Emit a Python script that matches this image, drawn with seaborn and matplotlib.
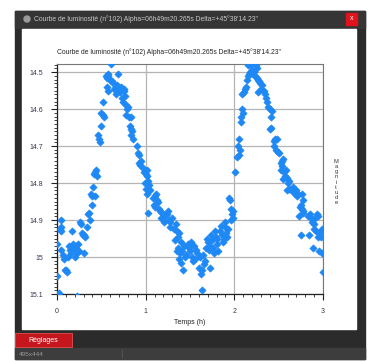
import matplotlib
matplotlib.use('Agg')
import matplotlib.pyplot as plt
from matplotlib.patches import Rectangle
from matplotlib.ticker import MultipleLocator
import seaborn as sns
import pandas as pd

# light curve readings (time in hours, magnitude)
temps_h = [
    0.00, 0.00, 0.02, 0.01, 0.03, 0.05, 0.05, 0.04, 0.05, 0.07, 0.08, 0.09, 0.11, 0.10, 0.12,
    0.15, 0.16, 0.14, 0.17, 0.18, 0.19, 0.20, 0.21, 0.22, 0.24, 0.25, 0.23, 0.22, 0.26, 0.27,
    0.28, 0.29, 0.30, 0.32, 0.31, 0.35, 0.36, 0.37, 0.34, 0.39, 0.40, 0.41, 0.42, 0.43, 0.45,
    0.44, 0.38, 0.43, 0.46, 0.47, 0.48, 0.50, 0.50, 0.52, 0.53, 0.52, 0.55, 0.56, 0.57, 0.58,
    0.56, 0.58, 0.61, 0.60, 0.62,
    0.63, 0.64, 0.66, 0.68, 0.69, 0.67, 0.70, 0.71, 0.72, 0.73, 0.74, 0.75, 0.76, 0.77, 0.78,
    0.79, 0.80, 0.78, 0.81, 0.83, 0.82, 0.84, 0.85, 0.86, 0.84, 0.90, 0.91, 0.93, 0.95, 0.94,
    0.92, 0.97, 0.98, 1.00, 1.02, 1.01, 0.99, 1.03, 1.04, 1.00, 1.02, 1.05, 1.03, 1.08, 1.10,
    1.12, 1.14, 1.13, 1.09, 1.11, 1.15, 1.16, 1.18, 1.20, 1.22, 1.17, 1.24, 1.25, 1.26, 1.21,
    1.28, 1.30, 1.27, 1.32, 1.34, 1.35, 1.33, 1.36, 1.38, 1.40, 1.37, 1.39, 1.41, 1.43, 1.35,
    1.38, 1.40, 1.42, 1.44, 1.46, 1.48, 1.49, 1.50, 1.51, 1.52, 1.53, 1.55, 1.56, 1.57, 1.58,
    1.60, 1.62, 1.63, 1.64, 1.66, 1.61, 1.65, 1.67, 1.68, 1.70, 1.69, 1.71, 1.72, 1.73, 1.75,
    1.76, 1.74, 1.78, 1.79, 1.80, 1.81, 1.82, 1.77, 1.84, 1.85, 1.86, 1.87, 1.88, 1.89, 1.90,
    1.91, 1.92, 1.93, 1.94, 1.95, 1.96, 1.97, 1.98, 1.99, 1.96, 2.01, 2.03, 2.05, 2.06, 2.04,
    2.05, 2.07, 2.08, 2.09, 2.10, 2.09, 2.11, 2.12, 2.13, 2.14, 2.15, 2.16, 2.18, 2.20, 2.21,
    2.22, 2.23, 2.15, 2.17, 2.19, 2.24, 2.25, 2.26, 2.27, 2.28, 2.29, 2.30, 2.31, 2.27, 2.33,
    2.35, 2.36, 2.37, 2.38, 2.40, 2.42, 2.41, 2.40, 2.41, 2.45, 2.46, 2.48, 2.45, 2.47, 2.49,
    2.50, 2.53, 2.54, 2.55, 2.54, 2.53, 2.56, 2.58, 2.57, 2.59, 2.55, 2.60, 2.62, 2.59, 2.62,
    2.64, 2.66, 2.67, 2.68, 2.70, 2.71, 2.72, 2.76, 2.77, 2.75, 2.74, 2.76, 2.78, 2.77, 2.73,
    2.75, 2.84, 2.83, 2.85, 2.86, 2.88, 2.90, 2.91, 2.93, 2.94, 2.90, 2.92, 2.94, 2.96, 2.98,
    2.99, 2.89, 2.96, 2.99, 3.00,
]
magnitude = [
    15.05, 14.965, 15.098, 15.10, 14.925, 14.90, 14.93, 14.92, 14.98, 14.995, 15.005, 15.035, 15.04, 15.035, 15.00,
    14.98, 14.99, 14.97, 14.93, 14.965, 14.975, 15.00, 14.97, 14.98, 14.965, 14.985, 14.99, 15.105, 14.905, 14.91,
    14.935, 14.94, 14.94, 14.945, 14.99, 14.885, 14.88, 14.90, 14.92, 14.86, 14.835, 14.81, 14.775, 14.77, 14.78,
    14.765, 14.83, 14.835, 14.67, 14.68, 14.69, 14.647, 14.61, 14.615, 14.62, 14.58, 14.51, 14.515, 14.505, 14.51,
    14.54, 14.55, 14.478, 14.52, 14.525,
    14.53, 14.545, 14.54, 14.535, 14.505, 14.56, 14.55, 14.555, 14.54, 14.57, 14.58, 14.55, 14.545, 14.565, 14.59,
    14.60, 14.595, 14.615, 14.62, 14.62, 14.645, 14.655, 14.66, 14.68, 14.67, 14.70, 14.72, 14.725, 14.74, 14.75,
    14.745, 14.76, 14.77, 14.775, 14.78, 14.765, 14.80, 14.795, 14.805, 14.815, 14.83, 14.82, 14.88, 14.84, 14.835,
    14.83, 14.85, 14.845, 14.86, 14.865, 14.87, 14.875, 14.88, 14.885, 14.89, 14.895, 14.885, 14.875, 14.90, 14.905,
    14.905, 14.895, 14.92, 14.925, 14.91, 14.93, 14.955, 14.945, 14.935, 14.96, 14.975, 14.99, 14.985, 14.97, 14.985,
    15.005, 15.015, 15.035, 15.00, 14.995, 14.965, 14.975, 14.985, 14.96, 15.00, 15.01, 14.97, 15.005, 14.98, 14.99,
    15.03, 15.045, 15.09, 15.035, 15.02, 15.00, 14.995, 15.01, 14.975, 14.96, 14.95, 14.98, 15.03, 14.97, 14.955,
    14.975, 14.94, 14.93, 14.945, 14.95, 14.965, 14.985, 14.99, 14.93, 14.915, 14.94, 14.96, 14.95, 14.905, 14.92,
    14.935, 14.945, 14.925, 14.84, 14.845, 14.87, 14.885, 14.895, 14.875, 14.90, 14.77, 14.73, 14.725, 14.71, 14.70,
    14.68, 14.635, 14.62, 14.60, 14.61, 14.56, 14.555, 14.545, 14.54, 14.52, 14.51, 14.505, 14.50, 14.495, 14.505,
    14.50, 14.51, 14.48, 14.478, 14.482, 14.48, 14.49, 14.515, 14.52, 14.525, 14.53, 14.545, 14.535, 14.555, 14.55,
    14.56, 14.57, 14.58, 14.595, 14.60, 14.605, 14.62, 14.655, 14.65, 14.685, 14.68, 14.68, 14.70, 14.71, 14.715,
    14.72, 14.745, 14.74, 14.735, 14.755, 14.765, 14.77, 14.765, 14.78, 14.785, 14.79, 14.80, 14.795, 14.82, 14.815,
    14.82, 14.81, 14.825, 14.83, 14.82, 14.835, 14.83, 14.83, 14.845, 14.86, 14.865, 14.87, 14.875, 14.88, 14.89,
    14.94, 14.94, 14.89, 14.885, 14.895, 14.905, 14.91, 14.895, 14.885, 14.89, 14.925, 14.93, 14.945, 14.935, 14.945,
    14.925, 14.975, 14.985, 14.99, 15.04,
]
y_ticks = [14.5, 14.6, 14.7, 14.8, 14.9, 15.0, 15.1]
y_tick_labels = ['14.5', '14.6', '14.7', '14.8', '14.9', '15', '15.1']
x_ticks = [0, 1, 2, 3]

title = "Courbe de luminosité (n°102) Alpha=06h49m20.265s Delta=+45°38'14.23\""

sns.set_style('white')
plt.rcParams['font.family'] = ['Liberation Sans', 'DejaVu Sans']

W, H = 373, 361
fig = plt.figure(figsize=(W / 100, H / 100), dpi=100, facecolor='white')

# window chrome drawn in pixel coordinates
bg = fig.add_axes([0, 0, 1, 1])
bg.set_xlim(0, W)
bg.set_ylim(H, 0)
bg.axis('off')
bg.add_patch(Rectangle((15, 11), 350, 348, color='#2b2b2b'))
bg.add_patch(Rectangle((15, 11), 350, 17, color='#353535'))
bg.add_patch(Rectangle((22, 29), 334, 300, color='white'))
bg.add_patch(Rectangle((15, 348), 350, 11, color='#3d3d3d'))
bg.plot([122, 122], [349, 358], color='#555555', lw=0.6)
bg.add_patch(Rectangle((346, 13), 11, 12, color='#e0121c'))
bg.text(351.5, 19, 'x', color='white', fontsize=5, ha='center', va='center')
bg.add_patch(plt.Circle((27, 19), 3, color='#9a9a9a'))
bg.text(34, 19, title, color='#c8c8c8', fontsize=4.9, ha='left', va='center')
bg.add_patch(Rectangle((15, 333), 57, 14, facecolor='#c4161c', edgecolor='#e05050', lw=0.6))
bg.text(43.5, 340, 'Réglages', color='white', fontsize=5, ha='center', va='center')
bg.text(19, 354, '495x444', color='#9a9a9a', fontsize=4.6, ha='left', va='center')
bg.text(57, 52, title, color='#222222', fontsize=4.9, ha='left', va='center')
bg.text(190, 322, 'Temps (h)', color='#222222', fontsize=5, ha='center', va='center')
bg.text(336, 182, '\n'.join('Magnitude'), color='#333333', fontsize=4.2,
        ha='center', va='center', linespacing=1.05)

# the plot itself
left, right, top, bottom = 57, 323, 64, 294
ax = fig.add_axes([left / W, (H - bottom) / H, (right - left) / W, (bottom - top) / H])
ax.set_facecolor('white')
df = pd.DataFrame({'Temps (h)': temps_h, 'Magnitude': magnitude})
sns.scatterplot(data=df, x='Temps (h)', y='Magnitude', ax=ax, marker='D', s=14,
                color='#1e88f5', edgecolor='#1e88f5', linewidth=0.4, zorder=3)

ax.set_xlim(0, 3)
ax.set_ylim(15.1, 14.478)
ax.set_xticks(x_ticks)
ax.set_xticklabels([str(v) for v in x_ticks])
ax.set_yticks(y_ticks)
ax.set_yticklabels(y_tick_labels)
ax.xaxis.set_minor_locator(MultipleLocator(0.1))
ax.yaxis.set_minor_locator(MultipleLocator(0.01))
ax.set_xlabel('')
ax.set_ylabel('')
ax.grid(True, which='major', color='#b4b4b4', lw=0.9)
ax.set_axisbelow(True)
ax.tick_params(which='major', direction='out', length=4, width=0.8, color='#222222',
               labelsize=5, labelcolor='#33334d', pad=6)
ax.tick_params(which='minor', direction='out', length=2, width=0.6, color='#222222')
ax.tick_params(axis='both', which='both', left=True, bottom=True)
for side in ['left', 'bottom']:
    ax.spines[side].set_color('#222222')
    ax.spines[side].set_linewidth(0.9)
for side in ['top', 'right']:
    ax.spines[side].set_color('#777777')
    ax.spines[side].set_linewidth(0.8)

fig.savefig('out.png', dpi=100, facecolor='white')
